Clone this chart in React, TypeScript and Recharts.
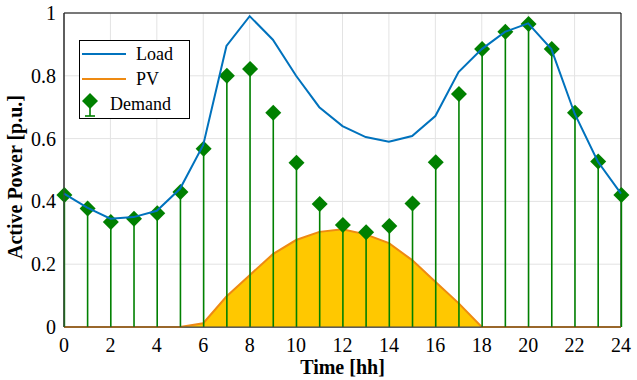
import { ComposedChart, Line, Area, Bar, XAxis, YAxis, CartesianGrid, ReferenceArea } from 'recharts'

const hours = [0, 1, 2, 3, 4, 5, 6, 7, 8, 9, 10, 11, 12, 13, 14, 15, 16, 17, 18, 19, 20, 21, 22, 23, 24]
const load = [0.425, 0.38, 0.345, 0.35, 0.37, 0.44, 0.58, 0.895, 0.99, 0.915, 0.8, 0.7, 0.64, 0.605, 0.59, 0.608, 0.672, 0.812, 0.885, 0.94, 0.967, 0.885, 0.68, 0.527, 0.425]
const pv = [0, 0, 0, 0, 0, 0, 0.012, 0.097, 0.165, 0.232, 0.277, 0.303, 0.311, 0.295, 0.267, 0.213, 0.144, 0.076, 0, 0, 0, 0, 0, 0, 0]
const demand = [0.42, 0.377, 0.334, 0.345, 0.362, 0.43, 0.568, 0.8, 0.822, 0.682, 0.523, 0.392, 0.325, 0.302, 0.322, 0.393, 0.525, 0.742, 0.885, 0.94, 0.965, 0.885, 0.682, 0.527, 0.42]
const xTicks = [0, 2, 4, 6, 8, 10, 12, 14, 16, 18, 20, 22, 24]
const yTicks = [0, 0.2, 0.4, 0.6, 0.8, 1]

const data = hours.map((h, i) => ({ h, load: load[i], pv: pv[i], demand: demand[i] }))

const BLUE = '#0072BD'
const ORANGE = '#EE8A12'
const GOLD = '#FFC800'
const GREEN = '#008000'
const FONT = 'Liberation Serif, serif'

function Stem(props: any) {
  const { x, y, width, height } = props
  const cx = x + width / 2
  const r = 8
  return (
    <g>
      <line x1={cx} x2={cx} y1={y} y2={y + height} stroke={GREEN} strokeWidth={1.6} />
      <polygon points={`${cx},${y - r} ${cx + r},${y} ${cx},${y + r} ${cx - r},${y}`} fill={GREEN} />
    </g>
  )
}

function XTick(props: any) {
  const { x, y, payload } = props
  return (
    <text x={x} y={y + 15} textAnchor="middle" style={{ fontFamily: FONT, fontSize: 20 }} fill="#000">
      {payload.value}
    </text>
  )
}

function YTick(props: any) {
  const { x, y, payload } = props
  return (
    <text x={x} y={y + 7} textAnchor="end" style={{ fontFamily: FONT, fontSize: 20 }} fill="#000">
      {payload.value}
    </text>
  )
}

function YTitle(props: any) {
  const vb = props.viewBox || {}
  const x = 22
  const y = vb.y + vb.height / 2 + 7
  return (
    <text x={x} y={y} transform={`rotate(-90 ${x} ${y})`} textAnchor="middle" style={{ fontFamily: FONT, fontSize: 20, fontWeight: 'bold' }} fill="#000">
      Active Power [p.u.]
    </text>
  )
}

function LegendBox() {
  const rows = [
    { label: 'Load', color: BLUE, kind: 'line', tx: 57 },
    { label: 'PV', color: ORANGE, kind: 'line', tx: 57 },
    { label: 'Demand', color: GREEN, kind: 'stem', tx: 31 },
  ]
  return (
    <svg width={111} height={79} style={{ display: 'block' }}>
      <rect x={0.5} y={0.5} width={110} height={78} fill="#fff" stroke="#000" strokeWidth={1} />
      {rows.map((r, i) => {
        const cy = 14 + i * 25
        return (
          <g key={r.label}>
            {r.kind === 'line' ? (
              <line x1={3} x2={47} y1={cy} y2={cy} stroke={r.color} strokeWidth={2} />
            ) : (
              <g>
                <line x1={11} x2={11} y1={cy - 3} y2={cy + 12} stroke={r.color} strokeWidth={1.6} />
                <line x1={6} x2={16} y1={cy + 12} y2={cy + 12} stroke={r.color} strokeWidth={1.6} />
                <polygon points={`11,${cy - 11} 19,${cy - 3} 11,${cy + 5} 3,${cy - 3}`} fill={r.color} />
              </g>
            )}
            <text x={r.tx} y={cy + 6} style={{ fontFamily: FONT, fontSize: 18 }} fill="#000">{r.label}</text>
          </g>
        )
      })}
    </svg>
  )
}

export default function App() {
  return (
    <div style={{ position: 'absolute', left: 0, top: 0, width: 637, height: 380 }}>
      <ComposedChart width={637} height={380} data={data} margin={{ top: 13, right: 16, bottom: 0, left: 4 }}>
        <CartesianGrid stroke="#e3e3e3" strokeWidth={1} />
        <XAxis
          dataKey="h"
          type="number"
          domain={[0, 24]}
          ticks={xTicks}
          allowDecimals
          height={53}
          tickMargin={4}
          tick={<XTick />}
          tickLine={false}
          axisLine={{ stroke: '#444' }}
          label={{ value: 'Time [hh]', position: 'insideBottom', offset: 6, fill: '#000', fontSize: 20, fontWeight: 'bold', fontFamily: FONT }}
        />
        <YAxis
          type="number"
          domain={[0, 1]}
          ticks={yTicks}
          width={60}
          tick={<YTick />}
          tickLine={false}
          axisLine={{ stroke: '#444' }}
          label={<YTitle />}
        />
        <ReferenceArea x1={0} x2={24} y1={0} y2={1} fill="none" stroke="#000" strokeWidth={1} ifOverflow="visible" />
        <Area type="linear" dataKey="pv" name="PV" stroke={ORANGE} strokeWidth={2} fill={GOLD} fillOpacity={1} isAnimationActive={false} />
        <Line type="linear" dataKey="load" name="Load" stroke={BLUE} strokeWidth={2} dot={false} isAnimationActive={false} />
        <Bar dataKey="demand" name="Demand" barSize={10} shape={<Stem />} isAnimationActive={false} />
      </ComposedChart>
      <div style={{ position: 'absolute', left: 79, top: 40 }}>
        <LegendBox />
      </div>
    </div>
  )
}
